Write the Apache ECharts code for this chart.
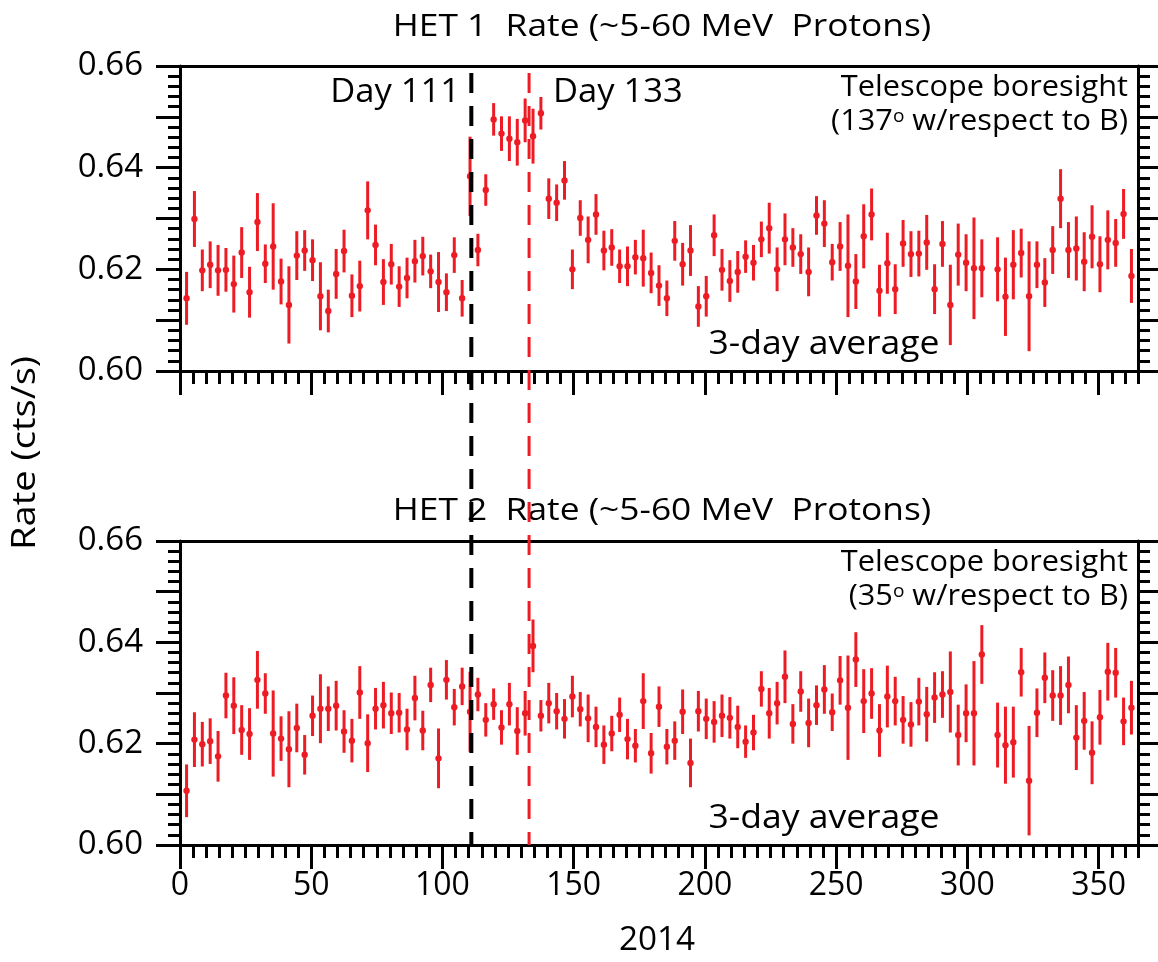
<!DOCTYPE html>
<html>
<head>
<meta charset="utf-8">
<script src="https://cdn.jsdelivr.net/npm/echarts@6/dist/echarts.min.js"></script>
<style>html,body{margin:0;padding:0;background:#fff;}#chart{width:1158px;height:962px;}</style>
</head>
<body>
<div id="chart"></div>
<script>
// ---- Data ----
const days = [
  2.5,5.5,8.5,11.5,14.5,17.5,20.5,23.5,26.5,29.5,
  32.5,35.5,38.5,41.5,44.5,47.5,50.5,53.5,56.5,59.5,
  62.5,65.5,68.5,71.5,74.5,77.5,80.5,83.5,86.5,89.5,
  92.5,95.5,98.5,101.5,104.5,107.5,110.5,113.5,116.5,119.5,
  122.5,125.5,128.5,131.5,134.5,137.5,140.5,143.5,146.5,149.5,
  152.5,155.5,158.5,161.5,164.5,167.5,170.5,173.5,176.5,179.5,
  182.5,185.5,188.5,191.5,194.5,197.5,200.5,203.5,206.5,209.5,
  212.5,215.5,218.5,221.5,224.5,227.5,230.5,233.5,236.5,239.5,
  242.5,245.5,248.5,251.5,254.5,257.5,260.5,263.5,266.5,269.5,
  272.5,275.5,278.5,281.5,284.5,287.5,290.5,293.5,296.5,299.5,
  302.5,305.5,311.5,314.5,317.5,320.5,323.5,326.5,329.5,
  332.5,335.5,338.5,341.5,344.5,347.5,350.5,353.5,356.5,359.5,
  362.5
];
const het1Rate = [
  0.6143,0.6299,0.6198,0.6209,0.6198,0.6199,0.6171,0.6233,0.6155,0.6293,
  0.6211,0.6245,0.6176,0.6130,0.6227,0.6237,0.6218,0.6147,0.6118,0.6191,
  0.6236,0.6148,0.6167,0.6316,0.6248,0.6175,0.6210,0.6166,0.6183,0.6216,
  0.6226,0.6196,0.6175,0.6155,0.6228,0.6143,0.6383,0.6238,0.6356,0.6495,
  0.6467,0.6457,0.6450,0.6493,0.6462,0.6507,0.6339,0.6331,0.6375,0.6200,
  0.6301,0.6258,0.6308,0.6237,0.6243,0.6206,0.6206,0.6224,0.6222,0.6193,
  0.6168,0.6143,0.6256,0.6210,0.6237,0.6127,0.6147,0.6267,0.6199,0.6177,
  0.6195,0.6225,0.6213,0.6259,0.6281,0.6200,0.6259,0.6243,0.6230,0.6195,
  0.6306,0.6290,0.6214,0.6245,0.6207,0.6176,0.6265,0.6308,0.6158,0.6212,
  0.6161,0.6251,0.6230,0.6231,0.6253,0.6161,0.6250,0.6130,0.6229,0.6213,
  0.6202,0.6202,0.6200,0.6146,0.6209,0.6232,0.6147,0.6209,0.6174,
  0.6238,0.6339,0.6238,0.6241,0.6215,0.6264,0.6210,0.6258,0.6252,0.6309,
  0.6187
];
const het1Err = [
  0.0052,0.0055,0.0041,0.0046,0.0050,0.0043,0.0056,0.0050,0.0050,0.0057,
  0.0038,0.0085,0.0045,0.0076,0.0048,0.0040,0.0041,0.0067,0.0042,0.0049,
  0.0042,0.0042,0.0050,0.0057,0.0040,0.0045,0.0040,0.0040,0.0040,0.0042,
  0.0038,0.0033,0.0059,0.0037,0.0035,0.0036,0.0078,0.0032,0.0031,0.0032,
  0.0034,0.0044,0.0046,0.0043,0.0054,0.0032,0.0040,0.0036,0.0038,0.0039,
  0.0035,0.0046,0.0040,0.0039,0.0036,0.0033,0.0039,0.0034,0.0056,0.0040,
  0.0040,0.0035,0.0039,0.0042,0.0050,0.0040,0.0040,0.0041,0.0041,0.0041,
  0.0041,0.0032,0.0035,0.0035,0.0050,0.0043,0.0051,0.0038,0.0039,0.0048,
  0.0038,0.0046,0.0036,0.0048,0.0101,0.0054,0.0063,0.0051,0.0051,0.0060,
  0.0049,0.0046,0.0045,0.0045,0.0054,0.0049,0.0045,0.0079,0.0061,0.0056,
  0.0100,0.0057,0.0063,0.0077,0.0068,0.0048,0.0108,0.0046,0.0048,
  0.0047,0.0058,0.0055,0.0063,0.0058,0.0062,0.0055,0.0058,0.0047,0.0049,
  0.0053
];
const het2Rate = [
  0.6107,0.6208,0.6199,0.6205,0.6175,0.6295,0.6275,0.6227,0.6219,0.6326,
  0.6299,0.6220,0.6210,0.6189,0.6231,0.6178,0.6255,0.6269,0.6269,0.6275,
  0.6224,0.6206,0.6301,0.6201,0.6269,0.6276,0.6260,0.6261,0.6228,0.6290,
  0.6226,0.6316,0.6171,0.6326,0.6272,0.6313,0.6263,0.6297,0.6247,0.6278,
  0.6232,0.6278,0.6225,0.6260,0.6393,0.6255,0.6280,0.6264,0.6249,0.6293,
  0.6268,0.6250,0.6233,0.6198,0.6220,0.6257,0.6209,0.6196,0.6284,0.6181,
  0.6273,0.6194,0.6206,0.6263,0.6162,0.6264,0.6249,0.6243,0.6255,0.6251,
  0.6233,0.6204,0.6222,0.6308,0.6260,0.6280,0.6332,0.6239,0.6303,0.6241,
  0.6276,0.6307,0.6262,0.6325,0.6271,0.6366,0.6284,0.6299,0.6226,0.6293,
  0.6284,0.6247,0.6238,0.6283,0.6258,0.6291,0.6297,0.6302,0.6217,0.6260,
  0.6260,0.6376,0.6217,0.6197,0.6203,0.6341,0.6127,0.6261,0.6330,
  0.6295,0.6295,0.6316,0.6212,0.6245,0.6182,0.6252,0.6342,0.6340,0.6244,
  0.6271
];
const het2Err = [
  0.0052,0.0054,0.0044,0.0045,0.0050,0.0045,0.0056,0.0049,0.0051,0.0057,
  0.0040,0.0085,0.0044,0.0075,0.0048,0.0039,0.0040,0.0068,0.0044,0.0049,
  0.0042,0.0043,0.0052,0.0057,0.0041,0.0046,0.0041,0.0039,0.0041,0.0044,
  0.0039,0.0034,0.0059,0.0039,0.0036,0.0037,0.0079,0.0033,0.0033,0.0031,
  0.0034,0.0042,0.0047,0.0044,0.0052,0.0031,0.0040,0.0036,0.0039,0.0041,
  0.0034,0.0047,0.0040,0.0038,0.0035,0.0034,0.0040,0.0033,0.0055,0.0040,
  0.0040,0.0035,0.0038,0.0044,0.0048,0.0040,0.0040,0.0041,0.0042,0.0041,
  0.0042,0.0032,0.0035,0.0035,0.0050,0.0042,0.0052,0.0039,0.0040,0.0048,
  0.0039,0.0048,0.0037,0.0048,0.0103,0.0054,0.0063,0.0050,0.0052,0.0061,
  0.0048,0.0047,0.0044,0.0047,0.0054,0.0050,0.0046,0.0080,0.0060,0.0057,
  0.0103,0.0058,0.0064,0.0076,0.0070,0.0048,0.0108,0.0048,0.0050,
  0.0050,0.0058,0.0056,0.0064,0.0057,0.0062,0.0054,0.0057,0.0049,0.0047,
  0.0053
];
const eventDays = [111, 133];
const xMajorTicks = [0, 50, 100, 150, 200, 250, 300, 350];
const yLabelTicks = [0.60, 0.62, 0.64, 0.66];

// ---- Chart ----
const RED = '#ED1C24';
const FONT = '"Open Sans", "Noto Sans", sans-serif';
const chart = echarts.init(document.getElementById('chart'), null, {renderer: 'canvas'});

function buildData(rate, err) {
  return days.map((d, i) => [d, rate[i], err[i]]);
}
function renderErr(params, api) {
  const x = api.value(0), v = api.value(1), e = api.value(2);
  const t = api.coord([x, v + e]);
  const b = api.coord([x, v - e]);
  const c = api.coord([x, v]);
  return {
    type: 'group',
    children: [
      {type: 'line', shape: {x1: t[0], y1: t[1], x2: b[0], y2: b[1]}, style: {stroke: RED, lineWidth: 3}},
      {type: 'circle', shape: {cx: c[0], cy: c[1], r: 3.2}, style: {fill: RED}}
    ]
  };
}

const blackLine = {color: '#000', width: 3};
function xMinor(g) {
  return {type: 'value', gridIndex: g, position: 'bottom', min: 0, max: 365, interval: 5,
    axisLine: {show: true, onZero: false, lineStyle: blackLine},
    axisTick: {show: true, inside: false, length: 13, lineStyle: blackLine},
    axisLabel: {show: false}, splitLine: {show: false}};
}
function xMajor(g, labels) {
  return {type: 'value', gridIndex: g, position: 'bottom', min: 0, max: 365,
    axisLine: {show: true, onZero: false, lineStyle: blackLine},
    axisTick: {show: true, inside: false, length: 24, lineStyle: blackLine, customValues: xMajorTicks},
    axisLabel: {show: labels, customValues: xMajorTicks, margin: 25, color: '#000', fontSize: 32, fontFamily: FONT},
    splitLine: {show: false}};
}
function xTop(g) {
  return {type: 'value', gridIndex: g, position: 'top', min: 0, max: 365,
    axisLine: {show: true, onZero: false, lineStyle: blackLine},
    axisTick: {show: false}, axisLabel: {show: false}, splitLine: {show: false}};
}
function yAx(g, pos, labels) {
  return {type: 'value', gridIndex: g, position: pos, min: 0.60, max: 0.66, interval: 0.01,
    axisLine: {show: true, onZero: false, lineStyle: blackLine},
    axisTick: {show: true, inside: false, length: 24, lineStyle: blackLine},
    minorTick: {show: true, splitNumber: 5, length: 12, lineStyle: blackLine},
    axisLabel: {show: labels, margin: 37, color: '#000', fontSize: 33, fontFamily: FONT,
      formatter: v => (yLabelTicks.some(t => Math.abs(t - v) < 1e-6) ? v.toFixed(2) : '')},
    splitLine: {show: false}, minorSplitLine: {show: false}};
}
function txt(x, y, text, size, align, sx, extra) {
  return Object.assign({type: 'text', x: x, y: y, scaleX: sx,
    style: {text: text, font: size + 'px ' + FONT, fill: '#000', textAlign: align, textVerticalAlign: 'middle'}}, extra || {});
}
function supTxt(x, y, text, sx) {
  return {type: 'text', x: x, y: y, scaleX: sx,
    style: {text: text, fill: '#000', textAlign: 'right', textVerticalAlign: 'middle',
      rich: {a: {fontSize: 29, fontFamily: FONT, fill: '#000'},
             s: {fontSize: 18, fontFamily: FONT, fill: '#000', verticalAlign: 'top'}}}};
}

const option = {
  backgroundColor: '#fff',
  animation: false,
  grid: [
    {left: 180, top: 66, width: 958, height: 305},
    {left: 180, top: 541, width: 958, height: 304},
    {left: 180, top: 66, width: 958, height: 779}
  ],
  xAxis: [
    xMinor(0), xMajor(0, false), xTop(0),
    xMinor(1), xMajor(1, true), xTop(1),
    {type: 'value', gridIndex: 2, min: 0, max: 365, show: false}
  ],
  yAxis: [
    yAx(0, 'left', true), yAx(0, 'right', false),
    yAx(1, 'left', true), yAx(1, 'right', false),
    {type: 'value', gridIndex: 2, min: 0, max: 1, show: false}
  ],
  series: [
    {type: 'custom', xAxisIndex: 0, yAxisIndex: 0, renderItem: renderErr, data: buildData(het1Rate, het1Err), z: 2},
    {type: 'custom', xAxisIndex: 3, yAxisIndex: 2, renderItem: renderErr, data: buildData(het2Rate, het2Err), z: 2},
    {type: 'line', xAxisIndex: 6, yAxisIndex: 4, symbol: 'none', silent: true, z: 5,
      data: [[eventDays[0], 1], [eventDays[0], 0]],
      lineStyle: {color: '#000', width: 4, type: [20, 13], dashOffset: 26}},
    {type: 'line', xAxisIndex: 6, yAxisIndex: 4, symbol: 'none', silent: true, z: 5,
      data: [[eventDays[1], 1], [eventDays[1], 0]],
      lineStyle: {color: RED, width: 3, type: [20, 13], dashOffset: 26}}
  ],
  graphic: [
    txt(662, 27, 'HET 1  Rate (~5-60 MeV  Protons)', 31, 'center', 1.14),
    txt(662, 511, 'HET 2  Rate (~5-60 MeV  Protons)', 31, 'center', 1.14),
    txt(460, 93, 'Day 111', 32, 'right', 1.08),
    txt(553, 93, 'Day 133', 32, 'left', 1.08),
    txt(1128, 88, 'Telescope boresight', 29, 'right', 1.06),
    supTxt(1128, 122, '{a|(137}{s|o}{a| w/respect to B)}', 1.06),
    txt(1128, 563, 'Telescope boresight', 29, 'right', 1.06),
    supTxt(1128, 597, '{a|(35}{s|o}{a| w/respect to B)}', 1.06),
    txt(824, 345, '3-day average', 32, 'center', 1.11),
    txt(824, 819, '3-day average', 32, 'center', 1.11),
    txt(26, 453, 'Rate (cts/s)', 32, 'center', 1.19, {rotation: Math.PI / 2}),
    txt(657, 941, '2014', 32, 'center', 1.04)
  ]
};
chart.setOption(option);
</script>
</body>
</html>
